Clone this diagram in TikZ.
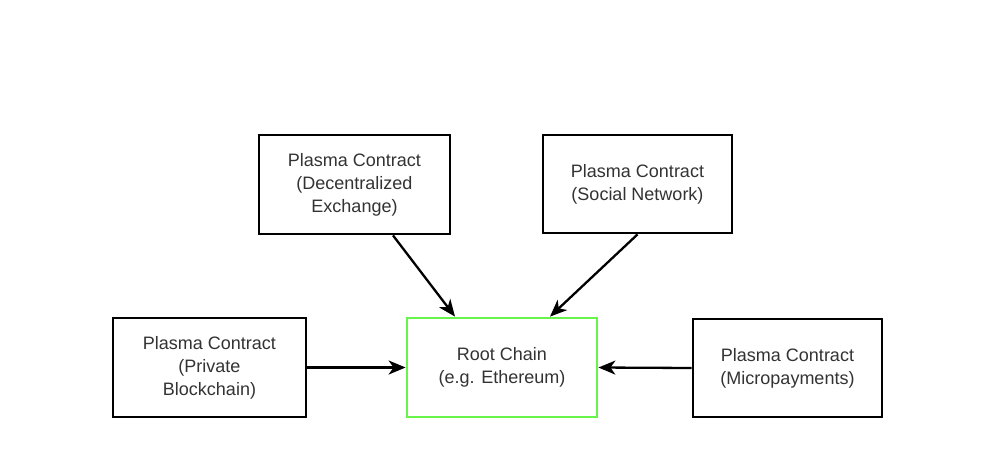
\documentclass[tikz,border=0pt]{standalone}
\usepackage{fontspec}
\setmainfont{Liberation Sans}
\usetikzlibrary{arrows.meta}
\definecolor{boxtext}{RGB}{51,51,51}
\definecolor{rootgreen}{RGB}{102,245,72}
\begin{document}
\begin{tikzpicture}[x=1pt,y=-1pt,
  contract/.style={draw=black, line width=2.8pt, fill=white, align=center,
    text=boxtext, font=\fontsize{18}{23}\selectfont, inner sep=0pt},
  rootbox/.style={contract, draw=rootgreen},
  feed/.style={line width=2.3pt, -{Stealth[length=17pt,width=14pt,inset=5pt]}}]
  \useasboundingbox (0,0) rectangle (1000,474);
  \fill[white] (0,0) rectangle (1000,474);

  % plasma child chains
  \node[contract, minimum width=191pt, minimum height=99pt] (dex) at (354.5,184.5)
    {Plasma Contract\\(Decentralized\\Exchange)};
  \node[contract, minimum width=189pt, minimum height=98pt] (social) at (637.5,184)
    {Plasma Contract\\(Social Network)};
  \node[contract, minimum width=193pt, minimum height=99pt] (private) at (209.5,367.5)
    {Plasma Contract\\(Private\\Blockchain)};
  \node[contract, minimum width=189pt, minimum height=98pt] (micro) at (787.5,368)
    {Plasma Contract\\(Micropayments)};

  % root chain
  \node[rootbox, minimum width=190pt, minimum height=99pt] (root) at (502,367.5)
    {Root Chain\\(e.g. Ethereum)};

  % commitments to the root chain
  \draw[feed] ([xshift=38.5pt]dex.south) -- ([xshift=-47pt]root.north);
  \draw[feed] (social.south) -- ([xshift=48pt]root.north);
  \draw[feed] (private.east) -- (root.west);
  \draw[feed] (micro.west) -- (root.east);
\end{tikzpicture}
\end{document}
